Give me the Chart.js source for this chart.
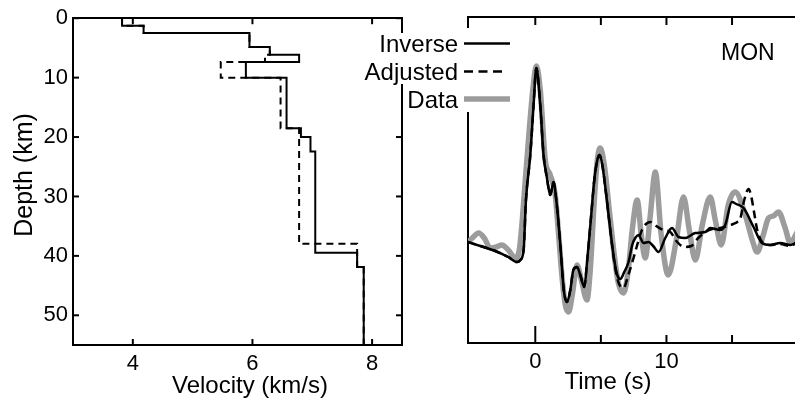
<!DOCTYPE html>
<html lang="en">
<head>
<meta charset="UTF-8" />
<title>Velocity model and waveform fit (MON)</title>
<script src="https://cdn.jsdelivr.net/npm/chart.js"></script>
<style>
  body { margin: 0; background: #fff; }
  #wrap { position: relative; width: 795px; height: 401px; overflow: hidden; }
  canvas { position: absolute; top: 0; }
  #velChart { left: 0; }
  #waveChart { left: 350px; }
</style>
</head>
<body>
<div id="wrap">
  <canvas id="velChart" width="420" height="401"></canvas>
  <canvas id="waveChart" width="445" height="401"></canvas>
</div>
<script>
// ---- tick values ----
const velocityTicks = [4, 6, 8];
const depthTicks = [0, 10, 20, 30, 40, 50];
const timeTicks = [0, 5, 10, 15];
const timeLabels = [0, 10];

// ---- velocity models (layer top depth in km, velocity in km/s) ----
const inverseTop = [0, 1.28, 2.51, 4.85, 6.14, 7.36, 10.04, 18.53, 19.98, 22.44, 39.46, 41.88];
const inverseVel = [3.82, 4.18, 5.95, 6.29, 6.78, 5.89, 6.57, 6.81, 6.97, 7.05, 7.75, 7.86];
const adjustedTop = [0, 1.28, 2.51, 4.85, 6.14, 7.36, 10.04, 18.53, 37.96, 41.88];
const adjustedVel = [3.82, 4.18, 5.95, 6.29, 6.21, 5.47, 6.47, 6.78, 7.75, 7.86];
const modelBottom = 55;

// ---- waveforms (time in s, relative amplitude) ----
const inverseTime = [-5.13, -4.19, -3.05, -2.06, -1.39, -1.14, -0.89, -0.71, -0.38, -0.13, 0.08, 0.38, 0.63, 0.89, 1.14, 1.39, 1.60, 1.91, 2.17, 2.42, 2.67, 2.90, 3.18, 3.43, 3.73, 3.96, 4.23, 4.50, 4.73, 4.90, 5.11, 5.41, 5.72, 6.02, 6.25, 6.48, 6.78, 7.11, 7.39, 7.62, 7.87, 8.25, 8.64, 8.99, 9.40, 9.91, 10.42, 10.92, 11.43, 12.20, 12.96, 13.34, 14.10, 14.48, 14.99, 15.32, 15.88, 16.64, 17.28, 17.91, 18.67, 19.44, 19.97];
const inverseAmp = [0.00, -0.04, -0.09, -0.15, -0.20, -0.18, -0.08, 0.42, 0.87, 1.37, 1.74, 1.37, 0.87, 0.64, 0.47, 0.60, 0.42, -0.03, -0.48, -0.60, -0.48, -0.28, -0.25, -0.33, -0.45, -0.18, 0.22, 0.62, 0.82, 0.87, 0.77, 0.47, 0.12, -0.18, -0.33, -0.37, -0.30, -0.20, -0.03, 0.04, 0.07, -0.01, 0.00, -0.04, -0.10, 0.04, 0.14, 0.05, 0.04, 0.09, 0.10, 0.14, 0.12, 0.17, 0.40, 0.38, 0.34, 0.15, -0.01, -0.03, -0.01, -0.03, 0.00];

const adjustedTime = [-5.13, -4.19, -3.05, -2.06, -1.39, -1.14, -0.89, -0.71, -0.38, -0.13, 0.08, 0.38, 0.63, 0.89, 1.14, 1.39, 1.60, 1.91, 2.17, 2.42, 2.67, 2.90, 3.18, 3.43, 3.73, 3.96, 4.23, 4.50, 4.73, 4.90, 5.11, 5.41, 5.72, 6.02, 6.33, 6.73, 7.09, 7.49, 7.77, 8.13, 8.77, 9.22, 9.76, 10.29, 10.82, 11.36, 11.89, 12.42, 12.96, 13.49, 14.10, 14.63, 15.09, 15.40, 15.62, 15.93, 16.26, 16.46, 16.69, 16.92, 17.30, 17.91, 18.67, 19.44, 19.97];
const adjustedAmp = [0.00, -0.04, -0.09, -0.15, -0.20, -0.18, -0.08, 0.42, 0.87, 1.37, 1.74, 1.37, 0.87, 0.64, 0.47, 0.60, 0.42, -0.03, -0.48, -0.60, -0.48, -0.28, -0.25, -0.33, -0.45, -0.18, 0.22, 0.62, 0.82, 0.87, 0.77, 0.47, 0.12, -0.20, -0.40, -0.46, -0.33, -0.16, -0.03, 0.12, 0.20, 0.16, 0.12, 0.10, 0.00, -0.05, -0.04, 0.04, 0.10, 0.13, 0.14, 0.16, 0.18, 0.20, 0.23, 0.42, 0.53, 0.46, 0.29, 0.12, 0.00, -0.03, -0.02, -0.04, 0.00];

const dataTime = [-5.13, -4.80, -4.32, -3.89, -3.43, -2.97, -2.54, -2.06, -1.52, -1.22, -0.99, -0.76, -0.46, -0.15, 0.08, 0.38, 0.76, 1.14, 1.52, 1.75, 2.06, 2.29, 2.54, 2.82, 3.18, 3.51, 3.94, 4.19, 4.50, 4.73, 4.95, 5.26, 5.64, 6.02, 6.33, 6.73, 7.09, 7.39, 7.77, 8.08, 8.38, 8.77, 9.15, 9.60, 10.14, 10.75, 11.30, 11.74, 12.20, 12.73, 13.34, 13.72, 14.18, 14.71, 15.24, 16.01, 16.54, 16.92, 17.38, 17.78, 18.14, 18.54, 19.05, 19.44, 19.97];
const dataAmp = [0.00, 0.04, 0.09, 0.04, -0.06, -0.05, -0.03, -0.08, -0.16, -0.08, 0.22, 0.62, 1.12, 1.57, 1.76, 1.52, 0.82, 0.67, 0.47, 0.12, -0.38, -0.63, -0.70, -0.53, -0.23, -0.38, -0.58, -0.28, 0.42, 0.82, 0.94, 0.77, 0.32, -0.13, -0.41, -0.51, -0.28, 0.12, 0.42, 0.07, -0.16, 0.27, 0.70, 0.07, -0.33, 0.02, 0.45, 0.12, -0.18, 0.17, 0.45, 0.22, -0.03, 0.37, 0.50, 0.27, 0.02, -0.10, 0.07, 0.24, 0.26, 0.30, 0.14, -0.01, 0.10];

const FONT = '"Liberation Sans", Arial, sans-serif';
const OX = 350; // left offset of the waveform canvas

function profile(tops, vels) {
  const pts = tops.map((d, i) => ({ x: vels[i], y: d }));
  pts.push({ x: vels[vels.length - 1], y: modelBottom });
  return pts;
}
function series(t, a) {
  return t.map((v, i) => ({ x: v, y: a[i] }));
}

// inward tick marks drawn at the scale's own tick positions
function inwardTicks(marks) {
  return {
    id: 'inwardTicks',
    afterDraw(chart) {
      const { ctx, chartArea: a } = chart;
      ctx.save();
      ctx.strokeStyle = '#000';
      ctx.lineWidth = 2;
      marks.forEach(m => {
        const scale = chart.scales[m.scale];
        m.values.forEach(v => {
          const p = scale.getPixelForValue(v);
          const len = m.long && m.long[v] ? m.long[v] : m.len;
          ctx.beginPath();
          if (m.side === 'top') { ctx.moveTo(p, a.top); ctx.lineTo(p, a.top + len); }
          if (m.side === 'bottom') { ctx.moveTo(p, a.bottom); ctx.lineTo(p, a.bottom - len); }
          if (m.side === 'left') { ctx.moveTo(a.left, p); ctx.lineTo(a.left + len, p); }
          if (m.side === 'right') { ctx.moveTo(a.right, p); ctx.lineTo(a.right - len, p); }
          ctx.stroke();
        });
      });
      ctx.restore();
    }
  };
}

const axisBase = {
  type: 'linear',
  grid: { display: false, drawTicks: false },
  border: { display: true, width: 2, color: '#000' },
  ticks: { color: '#000', font: { family: FONT, size: 22 } }
};

// ---- left: velocity-depth ----
const velTitles = {
  id: 'velTitles',
  afterDraw(chart) {
    const ctx = chart.ctx;
    ctx.save();
    ctx.fillStyle = '#000';
    ctx.font = '24px ' + FONT;
    ctx.textAlign = 'center';
    ctx.fillText('Velocity (km/s)', 250, 393);
    ctx.font = '25px ' + FONT;
    ctx.translate(32, 175);
    ctx.rotate(-Math.PI / 2);
    ctx.fillText('Depth (km)', 0, 0);
    ctx.restore();
  }
};

new Chart(document.getElementById('velChart'), {
  type: 'line',
  data: {
    datasets: [
      {
        label: 'Inverse',
        data: profile(inverseTop, inverseVel),
        borderColor: '#000',
        borderWidth: 2,
        stepped: 'after',
        pointRadius: 0,
        fill: false
      },
      {
        label: 'Adjusted',
        data: profile(adjustedTop, adjustedVel),
        borderColor: '#000',
        borderWidth: 2,
        borderDash: [7, 5],
        stepped: 'after',
        pointRadius: 0,
        fill: false
      }
    ]
  },
  options: {
    responsive: false,
    animation: false,
    layout: { padding: { top: 16, right: 18, left: 0, bottom: 0 } },
    plugins: { legend: { display: false }, tooltip: { enabled: false } },
    scales: {
      x: {
        ...axisBase, position: 'bottom', min: 3, max: 8.5,
        ticks: { ...axisBase.ticks, padding: 6 },
        afterBuildTicks: s => { s.ticks = velocityTicks.map(v => ({ value: v })); },
        afterFit: s => { s.height = 56; }
      },
      xTop: {
        ...axisBase, position: 'top', min: 3, max: 8.5,
        ticks: { display: false },
        afterFit: s => { s.height = 0; }
      },
      y: {
        ...axisBase, position: 'left', min: 0, max: modelBottom, reverse: true,
        ticks: { ...axisBase.ticks, padding: 5 },
        afterBuildTicks: s => { s.ticks = depthTicks.map(v => ({ value: v })); },
        afterFit: s => { s.width = 73; }
      },
      yRight: {
        ...axisBase, position: 'right', min: 0, max: modelBottom, reverse: true,
        ticks: { display: false },
        afterFit: s => { s.width = 0; }
      }
    }
  },
  plugins: [
    inwardTicks([
      { scale: 'x', side: 'top', values: velocityTicks, len: 6 },
      { scale: 'x', side: 'bottom', values: velocityTicks, len: 6 },
      { scale: 'y', side: 'left', values: depthTicks, len: 6 },
      { scale: 'y', side: 'right', values: depthTicks, len: 6 }
    ]),
    velTitles
  ]
});

// ---- right: waveforms ----
const waveLegend = {
  id: 'waveLegend',
  afterDraw(chart) {
    const ctx = chart.ctx;
    const ds = chart.data.datasets;
    const rows = [43.5, 71.5, 99];
    ctx.save();
    ctx.fillStyle = '#fff';
    ctx.fillRect(462 - OX, 28, 52, 84);
    ctx.fillRect(364 - OX, 33, 98, 51);
    ctx.fillStyle = '#000';
    ctx.font = '24px ' + FONT;
    ctx.textAlign = 'right';
    ds.forEach((d, i) => {
      const y = rows[i];
      ctx.fillText(d.label, 458 - OX, y + 8.5);
      ctx.beginPath();
      ctx.strokeStyle = d.borderColor;
      ctx.lineWidth = d.borderWidth;
      ctx.setLineDash(d.borderDash ? [9, 5.5] : []);
      ctx.moveTo(464 - OX, y);
      ctx.lineTo((d.borderDash ? 502 : 510) - OX, y);
      ctx.stroke();
    });
    ctx.setLineDash([]);
    ctx.textAlign = 'left';
    ctx.font = '23px ' + FONT;
    ctx.fillText('MON', 721 - OX, 60);
    ctx.textAlign = 'center';
    ctx.font = '24px ' + FONT;
    ctx.fillText('Time (s)', 608 - OX, 389);
    ctx.restore();
  }
};

new Chart(document.getElementById('waveChart'), {
  type: 'line',
  data: {
    datasets: [
      {
        label: 'Inverse',
        data: series(inverseTime, inverseAmp),
        borderColor: '#000',
        borderWidth: 2.5,
        cubicInterpolationMode: 'monotone',
        pointRadius: 0,
        fill: false
      },
      {
        label: 'Adjusted',
        data: series(adjustedTime, adjustedAmp),
        borderColor: '#000',
        borderWidth: 2.5,
        borderDash: [8, 5],
        cubicInterpolationMode: 'monotone',
        pointRadius: 0,
        fill: false
      },
      {
        label: 'Data',
        data: series(dataTime, dataAmp),
        borderColor: '#9c9c9c',
        borderWidth: 5.5,
        cubicInterpolationMode: 'monotone',
        pointRadius: 0,
        fill: false
      }
    ]
  },
  options: {
    responsive: false,
    animation: false,
    layout: { padding: { top: 17, right: 0, left: 0, bottom: 0 } },
    plugins: { legend: { display: false }, tooltip: { enabled: false } },
    scales: {
      x: {
        ...axisBase, position: 'bottom', min: -5.13, max: 19.8,
        ticks: {
          ...axisBase.ticks, padding: 6,
          callback: v => (timeLabels.includes(v) ? v : '')
        },
        afterBuildTicks: s => { s.ticks = timeTicks.map(v => ({ value: v })); },
        afterFit: s => { s.height = 58; }
      },
      xTop: {
        ...axisBase, position: 'top', min: -5.13, max: 19.8,
        ticks: { display: false },
        afterFit: s => { s.height = 0; }
      },
      y: {
        ...axisBase, position: 'left', min: -1.01, max: 2.25,
        ticks: { display: false },
        afterFit: s => { s.width = 118; }
      }
    }
  },
  plugins: [
    inwardTicks([
      { scale: 'x', side: 'top', values: timeTicks, len: 8 },
      { scale: 'x', side: 'bottom', values: timeTicks, len: 8, long: { 0: 17 } }
    ]),
    waveLegend
  ]
});
</script>
</body>
</html>
